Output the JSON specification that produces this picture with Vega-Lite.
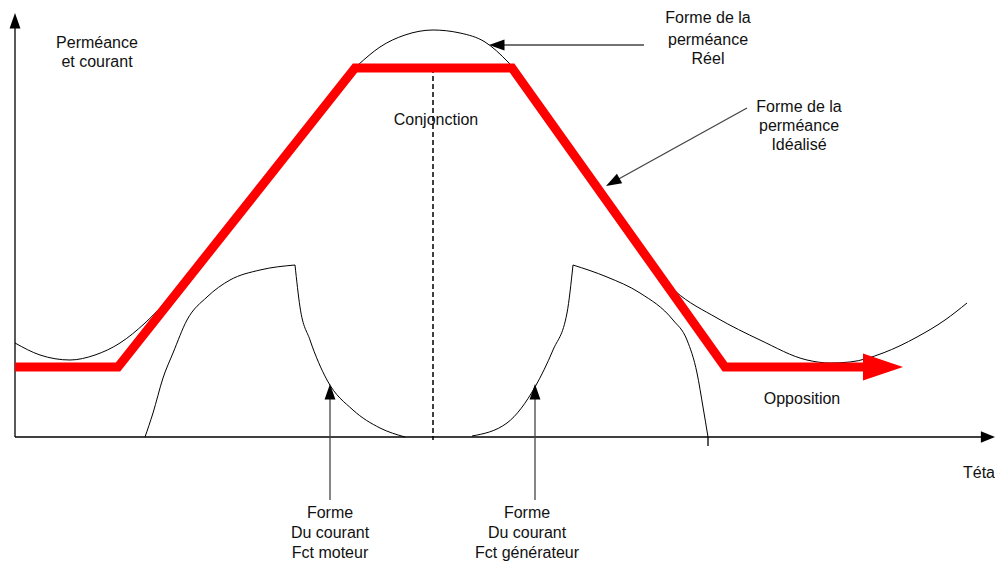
{
  "$schema": "https://vega.github.io/schema/vega-lite/v6.json",
  "width": 995,
  "height": 561,
  "autosize": {"type": "none"},
  "padding": 0,
  "background": "white",
  "config": {"view": {"stroke": null}},
  "datasets": {
    "real": [
      {"x": 15, "y": 94}, {"x": 40, "y": 82}, {"x": 70, "y": 77}, {"x": 95, "y": 82},
      {"x": 120, "y": 94}, {"x": 145, "y": 114}, {"x": 170, "y": 140}, {"x": 200, "y": 178},
      {"x": 240, "y": 229}, {"x": 280, "y": 279}, {"x": 320, "y": 330}, {"x": 345, "y": 360},
      {"x": 358, "y": 372}, {"x": 380, "y": 390}, {"x": 405, "y": 402}, {"x": 433, "y": 407},
      {"x": 460, "y": 404}, {"x": 485, "y": 395}, {"x": 508, "y": 375}, {"x": 530, "y": 349},
      {"x": 560, "y": 304}, {"x": 590, "y": 259}, {"x": 625, "y": 205}, {"x": 650, "y": 172},
      {"x": 675, "y": 146}, {"x": 717, "y": 119}, {"x": 760, "y": 97}, {"x": 807, "y": 77},
      {"x": 830, "y": 74}, {"x": 850, "y": 75}, {"x": 883, "y": 84}, {"x": 917, "y": 100},
      {"x": 945, "y": 117}, {"x": 967, "y": 134}
    ],
    "current": [
      {"seg": "L1", "x": 145, "y": 0}, {"seg": "L1", "x": 153, "y": 24}, {"seg": "L1", "x": 163, "y": 59},
      {"seg": "L1", "x": 173, "y": 84}, {"seg": "L1", "x": 187, "y": 117}, {"seg": "L1", "x": 207, "y": 140},
      {"seg": "L1", "x": 230, "y": 157}, {"seg": "L1", "x": 260, "y": 167}, {"seg": "L1", "x": 295, "y": 172},
      {"seg": "L2", "x": 295, "y": 172}, {"seg": "L2", "x": 300, "y": 130}, {"seg": "L2", "x": 310, "y": 97},
      {"seg": "L2", "x": 327, "y": 57}, {"seg": "L2", "x": 353, "y": 27}, {"seg": "L2", "x": 380, "y": 9},
      {"seg": "L2", "x": 405, "y": 0},
      {"seg": "R1", "x": 472, "y": 1}, {"seg": "R1", "x": 507, "y": 14}, {"seg": "R1", "x": 535, "y": 50},
      {"seg": "R1", "x": 553, "y": 87}, {"seg": "R1", "x": 567, "y": 124}, {"seg": "R1", "x": 573, "y": 172},
      {"seg": "R2", "x": 573, "y": 172}, {"seg": "R2", "x": 607, "y": 160}, {"seg": "R2", "x": 640, "y": 144},
      {"seg": "R2", "x": 673, "y": 117}, {"seg": "R2", "x": 687, "y": 97}, {"seg": "R2", "x": 697, "y": 64},
      {"seg": "R2", "x": 703, "y": 30}, {"seg": "R2", "x": 708, "y": 0}
    ],
    "ideal": [
      {"x": 15, "y": 70}, {"x": 118, "y": 70}, {"x": 355, "y": 369},
      {"x": 512, "y": 369}, {"x": 725, "y": 70}, {"x": 872, "y": 70}
    ],
    "dashed": [
      {"x": 433, "y": 369}, {"x": 433, "y": -3}
    ],
    "axes": [
      {"seg": "xaxis", "x": 15, "y": 0}, {"seg": "xaxis", "x": 985, "y": 0},
      {"seg": "yaxis", "x": 15, "y": 0}, {"seg": "yaxis", "x": 15, "y": 409},
      {"seg": "tick", "x": 708, "y": 0}, {"seg": "tick", "x": 708, "y": -9}
    ],
    "pointers": [
      {"seg": "a1", "x": 644, "y": 392}, {"seg": "a1", "x": 500, "y": 392},
      {"seg": "a2", "x": 747, "y": 329}, {"seg": "a2", "x": 615, "y": 256},
      {"seg": "a3", "x": 330, "y": -63}, {"seg": "a3", "x": 330, "y": 42},
      {"seg": "a4", "x": 535, "y": -63}, {"seg": "a4", "x": 535, "y": 42}
    ],
    "heads": [
      {"x": 15, "y": 424, "dir": "up"},
      {"x": 995, "y": 0, "dir": "right"},
      {"x": 489, "y": 392, "dir": "left"},
      {"x": 606, "y": 251, "dir": "downleft"},
      {"x": 330, "y": 53, "dir": "up"},
      {"x": 535, "y": 53, "dir": "up"}
    ],
    "redhead": [
      {"x": 903, "y": 70}
    ],
    "labels": [
      {"x": 97, "y": 394, "t": "Perméance"},
      {"x": 97, "y": 375, "t": "et courant"},
      {"x": 436, "y": 317, "t": "Conjonction"},
      {"x": 708, "y": 419, "t": "Forme de la"},
      {"x": 708, "y": 397, "t": "perméance"},
      {"x": 708, "y": 378, "t": "Réel"},
      {"x": 799, "y": 330, "t": "Forme de la"},
      {"x": 799, "y": 311, "t": "perméance"},
      {"x": 799, "y": 292, "t": "Idéalisé"},
      {"x": 802, "y": 38, "t": "Opposition"},
      {"x": 979, "y": -36, "t": "Téta"},
      {"x": 330, "y": -76, "t": "Forme"},
      {"x": 330, "y": -96, "t": "Du courant"},
      {"x": 330, "y": -116, "t": "Fct moteur"},
      {"x": 527, "y": -76, "t": "Forme"},
      {"x": 527, "y": -96, "t": "Du courant"},
      {"x": 527, "y": -116, "t": "Fct générateur"}
    ]
  },
  "encoding": {
    "x": {"field": "x", "type": "quantitative", "scale": {"domain": [0, 995], "nice": false, "zero": false}, "axis": null},
    "y": {"field": "y", "type": "quantitative", "scale": {"domain": [-124, 437], "nice": false, "zero": false}, "axis": null}
  },
  "layer": [
    {
      "data": {"name": "real"},
      "mark": {"type": "line", "color": "#000000", "strokeWidth": 1, "interpolate": "monotone"},
      "encoding": {}
    },
    {
      "data": {"name": "current"},
      "mark": {"type": "line", "color": "#000000", "strokeWidth": 1, "interpolate": "monotone"},
      "encoding": {"detail": {"field": "seg", "type": "nominal"}}
    },
    {
      "data": {"name": "dashed"},
      "mark": {"type": "line", "color": "#000000", "strokeWidth": 1.5, "strokeDash": [5, 3]},
      "encoding": {}
    },
    {
      "data": {"name": "axes"},
      "mark": {"type": "line", "color": "#000000", "strokeWidth": 1.3},
      "encoding": {"detail": {"field": "seg", "type": "nominal"}}
    },
    {
      "data": {"name": "pointers"},
      "mark": {"type": "line", "color": "#444444", "strokeWidth": 1.3},
      "encoding": {"detail": {"field": "seg", "type": "nominal"}}
    },
    {
      "data": {"name": "ideal"},
      "mark": {"type": "line", "color": "#ff0000", "strokeWidth": 9, "strokeJoin": "miter", "strokeCap": "butt"},
      "encoding": {}
    },
    {
      "data": {"name": "heads"},
      "transform": [{"filter": "datum.dir === 'up'"}],
      "mark": {"type": "point", "filled": true, "opacity": 1, "color": "#000000", "size": 240, "angle": 0, "shape": "M0,0L0.7,2L-0.7,2Z"},
      "encoding": {}
    },
    {
      "data": {"name": "heads"},
      "transform": [{"filter": "datum.dir === 'right'"}],
      "mark": {"type": "point", "filled": true, "opacity": 1, "color": "#000000", "size": 200, "angle": 90, "shape": "M0,0L0.8,2L-0.8,2Z"},
      "encoding": {}
    },
    {
      "data": {"name": "heads"},
      "transform": [{"filter": "datum.dir === 'left'"}],
      "mark": {"type": "point", "filled": true, "opacity": 1, "color": "#000000", "size": 240, "angle": 270, "shape": "M0,0L0.7,2L-0.7,2Z"},
      "encoding": {}
    },
    {
      "data": {"name": "heads"},
      "transform": [{"filter": "datum.dir === 'downleft'"}],
      "mark": {"type": "point", "filled": true, "opacity": 1, "color": "#000000", "size": 240, "angle": 241, "shape": "M0,0L0.7,2L-0.7,2Z"},
      "encoding": {}
    },
    {
      "data": {"name": "redhead"},
      "mark": {"type": "point", "filled": true, "opacity": 1, "color": "#ff0000", "size": 1600, "angle": 90, "shape": "M0,0L0.68,2L-0.68,2Z"},
      "encoding": {}
    },
    {
      "data": {"name": "labels"},
      "mark": {"type": "text", "font": "Liberation Sans", "fontSize": 16, "align": "center", "baseline": "middle", "color": "#111111"},
      "encoding": {"text": {"field": "t", "type": "nominal"}}
    }
  ]
}
